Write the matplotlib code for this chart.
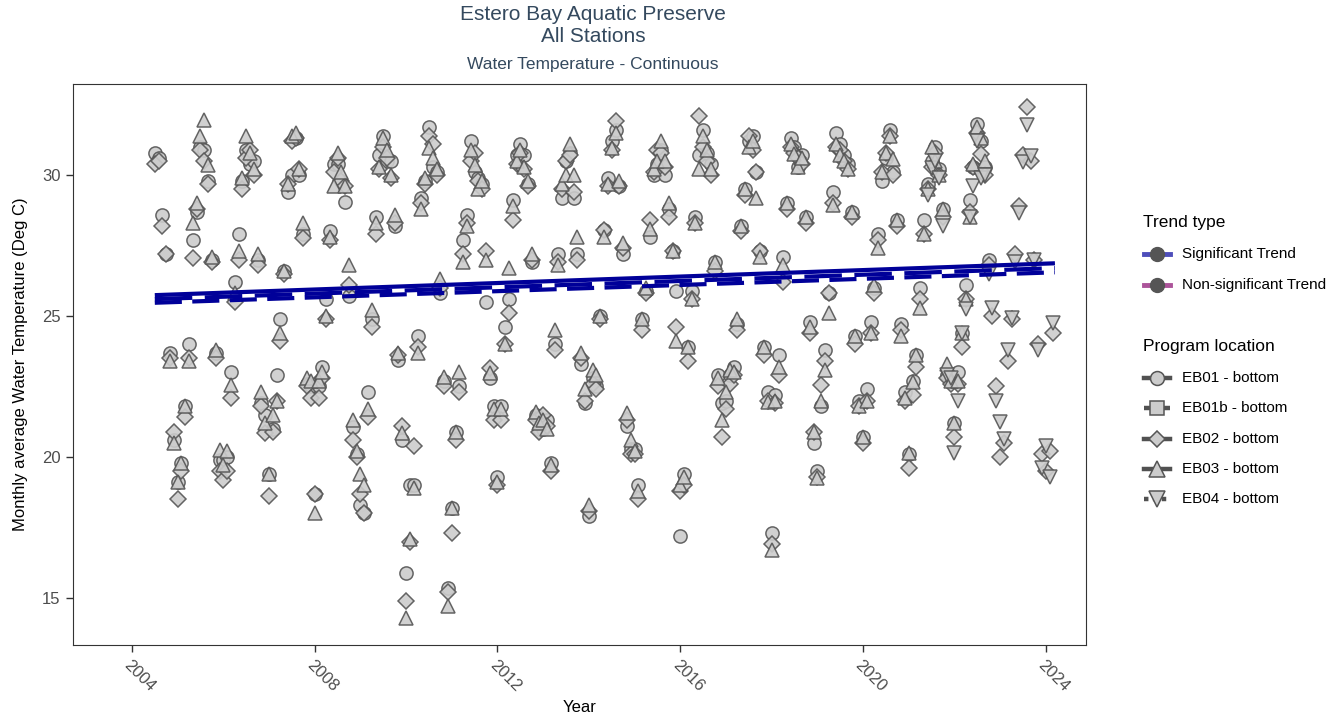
import matplotlib
matplotlib.use("Agg")
import matplotlib.pyplot as plt
from matplotlib.lines import Line2D
import numpy as np
import pandas as pd

plt.rcParams['font.family'] = ['Liberation Sans', 'DejaVu Sans']

nan = np.nan

# ---------------- data (monthly average water temperature, deg C) ----------------
eb01_start = "2004-07"
eb01_temp = [
    30.8, 30.6, 28.6, 27.2, 23.7, 20.6,
    19.1, 19.8, 21.8, 24.0, 27.7, 28.7, 31.0, 30.9, 29.8, 27.0, 23.7, 19.9,
    19.9, 20.0, 23.0, 26.2, 27.9, 29.8, 30.9, 30.4, 30.5, 27.0, 21.9, 21.5,
    19.4, 21.0, 22.9, 24.9, 26.6, 29.4, 30.0, 31.3, 30.0, 27.9, 22.6, 22.5,
    18.7, 22.5, 23.2, 25.6, 28.0, 30.4, 30.4, 29.8, 29.05, 25.7, 21.05, 20.1,
    18.3, 18.0, 22.3, 24.9, 28.5, 30.7, 31.4, 30.5, 30.5, 28.2, 23.45, 20.6,
    15.9, 19.0, 19.0, 24.3, 29.2, 29.8, 31.7, 30.3, 30.1, 25.8, 22.7, 15.35,
    18.2, 20.9, 22.5, 27.7, 28.6, 31.2, 30.1, 29.9, 29.7, 25.5, 22.8, 21.8,
    19.3, 21.8, 24.6, 25.6, 29.1, 30.7, 31.1, 30.7, 29.7, 26.9, 21.5, 21.0,
    21.0, 21.3, 19.8, 24.0, 27.2, 29.2, 30.5, 30.8, 29.2, 27.2, 23.3, 21.9,
    17.9, 22.8, 22.5, 25.0, 28.05, 29.9, 31.2, 31.6, 29.6, 27.2, 21.1, 20.3,
    20.3, 19.0, 24.9, 25.9, 27.8, 30.0, 30.4, 30.9, 30.0, 28.8, 27.3, 25.9,
    17.2, 19.4, 23.9, 25.9, 28.5, 30.7, 31.6, 30.8, 30.4, 26.9, 22.9, 21.9,
    22.0, 22.9, 23.2, 24.7, 28.2, 29.5, 31.2, 31.4, 30.1, 27.3, 23.9, 22.3,
    17.3, 22.2, 23.6, 27.1, 29.0, 31.3, 31.0, 30.3, 30.7, 28.5, 24.8, 20.5,
    19.5, 21.8, 23.8, 25.8, 29.4, 31.5, 31.1, 30.7, 30.4, 28.7, 24.3, 22.0,
    20.7, 22.4, 24.8, 26.0, 27.9, 29.8, 30.6, 31.6, 30.1, 28.4, 24.7, 22.3,
    20.1, 22.7, 23.6, 26.0, 28.4, 29.7, 30.5, 31.0, 30.2, 28.8, 22.9, 22.8,
    21.2, 23.0, 24.4, 26.1, 29.1, 30.3, 31.8, 31.2, 30.3, 27.0,
]

eb02_start = "2004-07"
eb02_temp = [
    30.4, 30.5, 28.2, 27.2, 23.5, 20.9,
    18.5, 19.5, 21.4, 23.5, 27.05, 28.8, 30.9, 30.5, 29.7, 26.9, 23.5, 19.5,
    19.2, 19.5, 22.1, 25.5, 27.0, 29.5, 30.6, 30.9, 30.0, 26.8, 21.8, 20.85,
    18.6, 20.9, 22.0, 24.1, 26.5, 29.7, 31.2, 31.3, 30.2, 27.75, 22.5, 22.1,
    18.7, 22.1, 22.8, 24.9, 27.7, 30.1, 30.6, 29.8, 29.6, 26.1, 20.6, 20.0,
    18.7, 18.0, 21.4, 24.6, 27.9, 30.2, 31.0, 30.6, 29.9, 28.3, 23.6, 21.1,
    14.9, 17.0, 20.4, 23.9, 29.0, 29.7, 31.4, 31.1, 30.0, 26.0, 22.5, 15.2,
    17.3, 20.6, 22.3, 27.2, 28.3, 30.5, 30.8, 29.8, 29.5, 27.3, 23.15, 21.3,
    19.0, 21.3, 24.0, 25.1, 28.4, 30.4, 30.8, 30.2, 29.6, 27.0, 21.3, 20.9,
    21.5, 21.1, 19.5, 23.8, 26.9, 29.5, 30.5, 30.7, 29.4, 27.0, 23.5, 22.0,
    18.1, 22.6, 22.4, 24.9, 28.05, 29.6, 30.9, 31.9, 29.6, 27.4, 21.3, 20.1,
    20.1, 18.5, 24.5, 25.8, 28.4, 30.1, 30.9, 30.8, 30.3, 28.5, 27.3, 24.6,
    18.8, 19.0, 23.4, 25.6, 28.3, 32.1, 31.0, 30.5, 30.0, 26.6, 22.5, 20.7,
    21.7, 22.6, 22.9, 24.5, 28.0, 29.3, 31.4, 30.9, 30.1, 27.3, 23.6, 22.0,
    16.9, 21.9, 22.9, 26.2, 28.8, 31.0, 30.8, 30.6, 30.4, 28.3, 24.4, 20.9,
    19.3, 22.55, 23.4, 25.8, 29.0, 31.0, 30.9, 30.5, 30.2, 28.5, 24.0, 21.8,
    20.5, 22.0, 24.4, 25.8, 27.7, 30.1, 30.8, 31.4, 30.0, 28.2, 24.5, 22.0,
    19.6, 22.2, 23.2, 25.6, 27.9, 29.5, 30.3, 30.8, 30.0, 28.5, 22.8, 22.6,
    20.7, 22.6, 23.9, 25.6, 28.7, 30.3, 31.5, 30.75, 30.0, 26.8, 25.0, 22.5,
    20.0, 20.5, 23.4, 24.9, 27.2, 28.9, 30.7, 32.4, 30.5, 27.0, 24.0, 20.1,
    19.5, 20.2, 24.4,
]

eb03_start = "2004-11"
eb03_temp = [
    23.4, 20.5,
    19.1, 19.8, 21.8, 23.4, 28.3, 29.0, 31.4, 31.95, 30.35, 27.1, 23.8, 20.25,
    19.7, 20.2, 22.55, 25.8, 27.3, 29.9, 31.4, 30.8, 30.2, 27.2, 22.3, 21.2,
    19.4, 21.5, 22.0, 24.4, 26.6, 29.7, 31.4, 31.5, 30.2, 28.3, 22.8, 22.7,
    18.0, 22.7, 23.0, 25.0, 27.8, 29.6, 30.8, 30.1, 29.6, 26.8, 21.3, 20.2,
    19.4, 19.0, 21.7, 25.2, 28.3, 30.3, 31.3, 30.9, 30.0, 28.6, 23.7, 20.85,
    14.3, 17.1, 18.9, 23.7, 28.8, 29.9, 30.95, 30.6, 30.2, 26.3, 22.85, 14.7,
    18.2, 20.9, 23.0, 26.9, 28.2, 30.9, 30.35, 29.5, 29.8, 27.0, 22.97, 21.7,
    19.1, 21.7, 24.0, 26.7, 28.9, 30.5, 30.9, 30.3, 29.8, 27.2, 21.6, 21.2,
    21.3, 21.0, 19.7, 24.5, 26.8, 29.7, 30.0, 31.1, 30.0, 27.8, 23.7, 22.4,
    18.3, 23.1, 22.9, 25.0, 27.8, 29.7, 30.95, 31.5, 29.8, 27.6, 21.55, 20.6,
    20.2, 18.8, 24.9, 26.0, 28.1, 30.2, 30.5, 31.2, 30.5, 29.0, 27.3, 24.1,
    19.0, 19.3, 23.9, 25.6, 28.3, 30.2, 31.4, 30.9, 30.2, 26.9, 22.8, 21.3,
    22.3, 23.1, 23.0, 24.9, 28.2, 29.5, 31.0, 31.2, 29.2, 27.1, 23.9, 21.95,
    16.7, 22.0, 23.2, 26.8, 29.0, 31.1, 30.75, 30.3, 30.6, 28.5, 24.6, 20.9,
    19.25, 22.0, 23.1, 25.1, 28.95, 31.1, 30.7, 30.5, 30.2, 28.7, 24.3, 21.8,
    20.7, 22.0, 24.4, 26.1, 27.4, 30.1, 30.8, 31.4, 30.57, 28.4, 24.3, 22.1,
    20.14, 22.66, 23.6, 25.3, 27.9, 29.5, 30.98, 30.5, 30.0, 28.8, 23.3, 22.7,
    21.2, 22.7, 24.4, 25.6, 28.5, 30.4, 31.7, 31.3, 30.5,
]

eb04_start = "2021-06"
eb04_temp = [
    29.3, 30.26, 30.5, 29.9, 28.2, 22.9, 22.8,
    20.15, 22.0, 24.4, 25.25, 28.5, 29.6, 31.2, 29.9, 30.0, 26.5, 25.3, 22.0,
    21.23, 20.63, 23.8, 24.93, 26.9, 28.65, 30.45, 31.77, 30.68, 26.97, 23.8, 19.6,
    20.4, 19.3, 24.75,
]

stations = ["EB01 - bottom", "EB01b - bottom", "EB02 - bottom", "EB03 - bottom", "EB04 - bottom"]

# trend lines (all significant): start/end year and fitted value
trend_names = ["EB01", "EB02", "EB03"]
trend_year0 = [2004.5, 2004.5, 2004.5]
trend_year1 = [2024.2, 2024.2, 2024.2]
trend_val0 = [25.74, 25.47, 25.60]
trend_val1 = [26.87, 26.55, 26.70]

title_lines = ["Estero Bay Aquatic Preserve", "All Stations"]
subtitle = "Water Temperature - Continuous"
y_label = "Monthly average Water Temperature (Deg C)"
x_label = "Year"
x_ticks = [2004, 2008, 2012, 2016, 2020, 2024]
y_ticks = [15, 20, 25, 30]


def to_decimal(start, values):
    d = pd.date_range(start=start, periods=len(values), freq="MS")
    x = d.year + (d.month - 1) / 12.0
    return np.asarray(x, dtype=float), np.asarray(values, dtype=float)


# ---------------- figure ----------------
W, H = 1340, 723
fig = plt.figure(figsize=(W / 100, H / 100), dpi=100)
ax = fig.add_axes([73 / W, 1 - 645 / H, (1086 - 73) / W, (645 - 84) / H])

fill = "#cccccc"
edge = "#555555"
mstyle = dict(linestyle="none", markerfacecolor=fill, markeredgecolor=edge,
              markeredgewidth=1.1, alpha=0.9)

series = [
    (eb01_start, eb01_temp, "o", 9.5),
    (eb02_start, eb02_temp, "D", 8),
    (eb03_start, eb03_temp, "^", 10.5),
    (eb04_start, eb04_temp, "v", 10.5),
]
for start, vals, mk, ms in series:
    x, y = to_decimal(start, vals)
    ax.plot(x, y, marker=mk, markersize=ms, **mstyle, zorder=2)

line_color = "#000099"
dash_styles = ["-", (0, (6.5, 2.5)), (0, (9, 3))]
for i in range(len(trend_names)):
    ax.plot([trend_year0[i], trend_year1[i]], [trend_val0[i], trend_val1[i]],
            color=line_color, lw=3.0, linestyle=dash_styles[i],
            solid_capstyle="butt", dash_capstyle="butt", zorder=3)

ax.set_xlim(2002.71, 2024.88)
ax.set_ylim(13.33, 33.23)
ax.set_xticks(x_ticks)
ax.set_yticks(y_ticks)
ax.set_xticklabels([str(t) for t in x_ticks], rotation=-45, ha="left", va="top",
                   rotation_mode="anchor", color="#4d4d4d", fontsize=12)
ax.set_yticklabels([str(t) for t in y_ticks], color="#4d4d4d", fontsize=12)
ax.tick_params(axis="both", length=5, width=1, color="#333333", pad=4)
for s in ax.spines.values():
    s.set_color("#333333")
    s.set_linewidth(0.8)
ax.set_ylabel(y_label, fontsize=12, color="black", labelpad=10)
fig.text(579.5 / W, 1 - 708 / H, x_label, ha="center", va="center", fontsize=12)

title_color = "#34495e"
fig.text(593 / W, 1 - 14 / H, title_lines[0], ha="center", va="center", fontsize=15, color=title_color)
fig.text(593 / W, 1 - 37 / H, title_lines[1], ha="center", va="center", fontsize=15, color=title_color)
fig.text(593 / W, 1 - 64 / H, subtitle, ha="center", va="center", fontsize=12.5, color=title_color)

# ---------------- legends (drawn manually) ----------------
kx0, kx1, tx = 1144 / W, 1170 / W, 1182 / W
fig.text(1143 / W, 1 - 223 / H, "Trend type", ha="left", va="center", fontsize=12.5)
trend_types = ["Significant Trend", "Non-significant Trend"]
trend_cols = ["#3b3bb3", "#a3418f"]
for j, (lab, col) in enumerate(zip(trend_types, trend_cols)):
    yy = 1 - (254 + 31 * j) / H
    fig.add_artist(Line2D([kx0, kx1], [yy, yy], transform=fig.transFigure,
                          color=col, lw=3.5, alpha=0.9))
    fig.add_artist(Line2D([(kx0 + kx1) / 2], [yy], transform=fig.transFigure,
                          marker="o", markersize=10, color="#555555", linestyle="none"))
    fig.text(tx, yy, lab, ha="left", va="center", fontsize=11)

fig.text(1143 / W, 1 - 346 / H, "Program location", ha="left", va="center", fontsize=12.5)
leg_markers = ["o", "s", "D", "^", "v"]
leg_ms = [10, 10, 8.5, 11, 11]
leg_ls = ["-", (0, (2.5, 1)), "-", "-", (0, (1, 1))]
for j, lab in enumerate(stations):
    yy = 1 - (378 + 30.3 * j) / H
    fig.add_artist(Line2D([kx0, kx1], [yy, yy], transform=fig.transFigure,
                          color="#333333", lw=3.2, linestyle=leg_ls[j], alpha=0.85))
    fig.add_artist(Line2D([(kx0 + kx1) / 2], [yy], transform=fig.transFigure,
                          marker=leg_markers[j], markersize=leg_ms[j], markerfacecolor=fill,
                          markeredgecolor=edge, markeredgewidth=1.1, linestyle="none"))
    fig.text(tx, yy, lab, ha="left", va="center", fontsize=11)

fig.savefig("out.png", dpi=100)
